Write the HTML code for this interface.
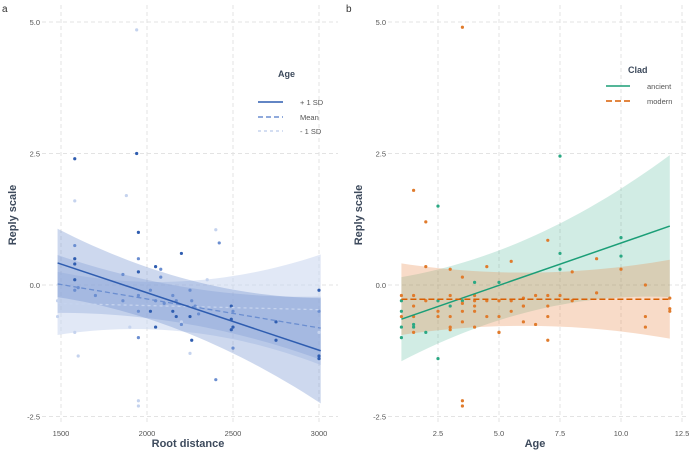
<!DOCTYPE html>
<html><head><meta charset="utf-8"><style>
body{margin:0;background:#fff;font-family:"Liberation Sans",sans-serif}
svg text{font-family:"Liberation Sans",sans-serif}
</style></head><body>
<svg id="c" width="691" height="451" xmlns="http://www.w3.org/2000/svg">
<text x="2" y="12" font-size="10" fill="#333">a</text>
<text x="346" y="12" font-size="10" fill="#333">b</text>
<text transform="translate(16,215) rotate(-90)" text-anchor="middle" font-size="11" font-weight="bold" fill="#3d4a5c">Reply scale</text>
<text transform="translate(362,215) rotate(-90)" text-anchor="middle" font-size="11" font-weight="bold" fill="#3d4a5c">Reply scale</text>
<text x="188" y="447" text-anchor="middle" font-size="11" font-weight="bold" fill="#3d4a5c">Root distance</text>
<text x="535" y="447" text-anchor="middle" font-size="11" font-weight="bold" fill="#3d4a5c">Age</text>
<g id="pa"></g><g id="pb"></g>
<g>
<text x="278" y="77" font-size="9" font-weight="bold" fill="#3d4a5c">Age</text>
<line x1="258" y1="74" x2="283" y2="74" stroke="#2f5db0" stroke-width="1.6" transform="translate(0,28)"/>
<text x="300" y="105" font-size="7.5" fill="#555">+ 1 SD</text>
<line x1="258" y1="117" x2="283" y2="117" stroke="#6b8ed0" stroke-width="1.4" stroke-dasharray="5,3"/>
<text x="300" y="120" font-size="7.5" fill="#555">Mean</text>
<line x1="258" y1="131" x2="283" y2="131" stroke="#c5d3ee" stroke-width="1.4" stroke-dasharray="3,3"/>
<text x="300" y="134" font-size="7.5" fill="#555">- 1 SD</text>
</g>
<g>
<text x="628" y="73" font-size="9" font-weight="bold" fill="#3d4a5c">Clad</text>
<line x1="606" y1="86" x2="630" y2="86" stroke="#1b9e77" stroke-width="1.6"/>
<text x="647" y="89" font-size="7.5" fill="#555">ancient</text>
<line x1="606" y1="101" x2="630" y2="101" stroke="#d95f02" stroke-width="1.6" stroke-dasharray="6,3"/>
<text x="647" y="104" font-size="7.5" fill="#555">modern</text>
</g>
</svg>
<script>
const yTicks=[5,2.5,0,-2.5];
const yTickLabels=["5.0","2.5","0.0","-2.5"];
const xTicksA=[1500,2000,2500,3000];
const xTicksB=[2.5,5,7.5,10,12.5];
const xTickLabelsB=["2.5","5.0","7.5","10.0","12.5"];
// panel a points: distance, reply, shade (0 dark,1 mid,2 light)
const distA=[1580,1580,1580,1580,1580,1580,1580,1580,1600,1480,1480,1600,1860,1860,1880,1940,1940,1950,1950,1950,1950,1950,1950,1950,1950,2020,2020,2050,2050,2050,2080,2080,2100,2150,2150,2170,2170,2200,2200,2250,2250,2260,2260,2280,2300,2400,2420,2490,2490,2490,2500,2500,2500,2750,2750,3000,3000,3000,3000,3000,1900,2200,2250,1700,2400,2350];
const replyA=[2.4,0.75,0.5,0.4,0.1,-0.1,-0.9,1.6,-1.35,-0.3,-0.6,-0.05,0.2,-0.3,1.7,4.85,2.5,1.0,0.5,0.25,-0.2,-0.5,-1.0,-2.3,-2.2,-0.1,-0.5,0.35,-0.3,-0.8,0.3,0.15,-0.35,-0.2,-0.5,-0.3,-0.6,0.6,-0.7,-0.1,-0.6,-0.3,-1.05,-0.4,-0.55,1.05,0.8,-0.4,-0.65,-0.85,-1.2,-0.5,-0.8,-0.7,-1.05,-0.1,-0.5,-0.9,-1.35,-1.4,-0.8,-0.75,-1.3,-0.2,-1.8,0.1];
const shadeA=[0,1,0,0,0,1,2,2,2,2,2,1,1,1,2,2,0,0,1,0,1,1,1,2,2,1,0,0,1,0,1,1,1,1,0,1,0,0,2,1,0,1,0,1,1,2,1,0,0,0,1,1,0,0,0,0,1,2,0,0,2,1,2,1,1,2];
// panel b points: age, reply, clad (0 ancient, 1 modern)
const ageB=[1,1,1,1,1,1,1.5,1.5,1.5,1.5,1.5,1.5,2,2,2,2.5,2.5,2.5,2.5,3,3,3,3,3,3.5,3.5,3.5,3.5,3.5,4,4,4,4,4.5,4.5,4.5,5,5,5,5,5.5,5.5,5.5,6,6,6,6.5,6.5,7,7,7,7,7.5,7.5,7.5,7.5,8,9,10,10,10,11,11,11,12,12,1.5,2,3.5,3.5,4,4,5,6,7,8,9,12,3.5,3,2.5];
const replyB=[-0.3,-0.5,-0.8,-0.2,-0.6,-1.0,1.8,-0.4,-0.6,-0.8,-0.9,-0.2,0.35,-0.3,-0.9,-0.3,-0.5,-0.6,1.5,0.3,-0.2,-0.4,-0.6,-0.8,-0.3,-0.5,0.15,-0.7,-2.2,-0.2,-0.4,-0.5,-0.8,0.35,-0.3,-0.6,0.05,-0.3,-0.6,-0.9,0.45,-0.3,-0.5,-0.25,-0.4,-0.7,-0.2,-0.75,0.85,-0.2,-0.4,-0.6,2.45,0.6,0.3,-0.2,-0.3,0.5,0.9,0.55,0.3,0.0,-0.6,-0.8,-0.25,-0.45,-0.75,1.2,4.9,-2.3,0.05,-0.3,-0.9,-0.4,-1.05,0.25,-0.15,-0.5,-0.35,-0.85,-1.4];
const cladB=[0,0,0,1,1,0,1,1,1,0,1,1,1,1,0,0,1,1,0,1,1,0,1,1,0,1,1,1,1,1,1,1,1,1,1,1,0,1,1,1,1,1,1,1,1,1,1,1,1,1,1,1,0,0,0,1,1,1,0,0,1,1,1,1,1,1,0,1,1,1,0,1,1,1,1,1,1,1,1,1,0];
// fitted lines
const fitA_hi=[0.42,-1.25], fitA_mean=[0.02,-0.82], fitA_lo=[-0.35,-0.47];
const fitB_anc=[-0.65,1.12], fitB_mod=[-0.27,-0.27];
const NS="http://www.w3.org/2000/svg";
function mk(p,t,a){const e=document.createElementNS(NS,t);for(const k in a)e.setAttribute(k,a[k]);p.appendChild(e);return e;}
const yS=v=>285-v*52.6;
const xA=v=>61+(v-1500)*0.172;
const xB=v=>438+(v-2.5)*24.4;
function panel(g,x0,x1,xs,ticks,labels,name){
  for(const t of ticks){const l=mk(g,'line',{x1:xs(t),x2:xs(t),y1:5,y2:425,stroke:'#e3e3e3','stroke-dasharray':'4,3'});
  
  const tx=mk(g,'text',{x:xs(t),y:436,'text-anchor':'middle','font-size':'7.5',fill:'#555'});tx.textContent=labels[ticks.indexOf(t)];
  }
  yTicks.forEach((t,i)=>{const l=mk(g,'line',{x1:x0,x2:x1,y1:yS(t),y2:yS(t),stroke:'#e3e3e3','stroke-dasharray':'4,3'});
  
  const tx=mk(g,'text',{x:x0-2,y:yS(t)+3,'text-anchor':'end','font-size':'7.5',fill:'#555'});tx.textContent=yTickLabels[i];
  });
}
function band(g,xs,xa,xb,fit,halfA,halfMid,halfB,fill,op,name){
  let pts=[],lo=[];const n=30;
  for(let i=0;i<=n;i++){const t=i/n;const x=xa+(xb-xa)*t;const m=fit[0]+(fit[1]-fit[0])*t;
   const h=(1-t)*(1-t)*halfA+2*t*(1-t)*halfMid+t*t*halfB;pts.push(xs(x)+','+yS(m+h));lo.unshift(xs(x)+','+yS(m-h));}
  const p=mk(g,'polygon',{points:pts.concat(lo).join(' '),fill:fill,'fill-opacity':op});
  
}
function line(g,xs,xa,xb,fit,col,w,dash,name){const l=mk(g,'line',{x1:xs(xa),y1:yS(fit[0]),x2:xs(xb),y2:yS(fit[1]),stroke:col,'stroke-width':w,'stroke-dasharray':dash});
 }
const ga=document.getElementById('pa'),gb=document.getElementById('pb');
panel(ga,42,338,xA,xTicksA,["1500","2000","2500","3000"],'panel-a');
panel(gb,388,688,xB,xTicksB,xTickLabelsB,'panel-b');
band(ga,xA,1480,3010,fitA_lo,0.6,0.15,1.05,'#c8d5ee',0.55,'band-minus-1sd');
band(ga,xA,1480,3010,fitA_mean,0.55,0.12,0.6,'#8aa4d8',0.35,'band-mean');
band(ga,xA,1480,3010,fitA_hi,0.65,0.2,1.0,'#6f8fcf',0.35,'band-plus-1sd');
const shadeCol=['#2f5db0','#6b8ed0','#c5d3ee'];
distA.forEach((d,i)=>{const c=mk(ga,'circle',{cx:xA(d),cy:yS(replyA[i]),r:1.6,fill:shadeCol[shadeA[i]]});
 });
line(ga,xA,1480,3010,fitA_lo,'#c5d3ee',1.3,'3,3','line-minus-1sd');
line(ga,xA,1480,3010,fitA_mean,'#6b8ed0',1.3,'5,3','line-mean');
line(ga,xA,1480,3010,fitA_hi,'#2f5db0',1.5,'','line-plus-1sd');
band(gb,xB,1,12,fitB_anc,0.8,0.35,1.35,'#1b9e77',0.2,'band-ancient');
band(gb,xB,1,12,fitB_mod,0.68,0.3,0.75,'#e8884a',0.3,'band-modern');
ageB.forEach((a,i)=>{const c=mk(gb,'circle',{cx:xB(a),cy:yS(replyB[i]),r:1.6,fill:cladB[i]?'#e07b2c':'#2aa883'});
 });
line(gb,xB,1,12,fitB_anc,'#1b9e77',1.5,'','line-ancient');
line(gb,xB,1,12,fitB_mod,'#d95f02',1.5,'6,3','line-modern');
</script>
</body></html>
